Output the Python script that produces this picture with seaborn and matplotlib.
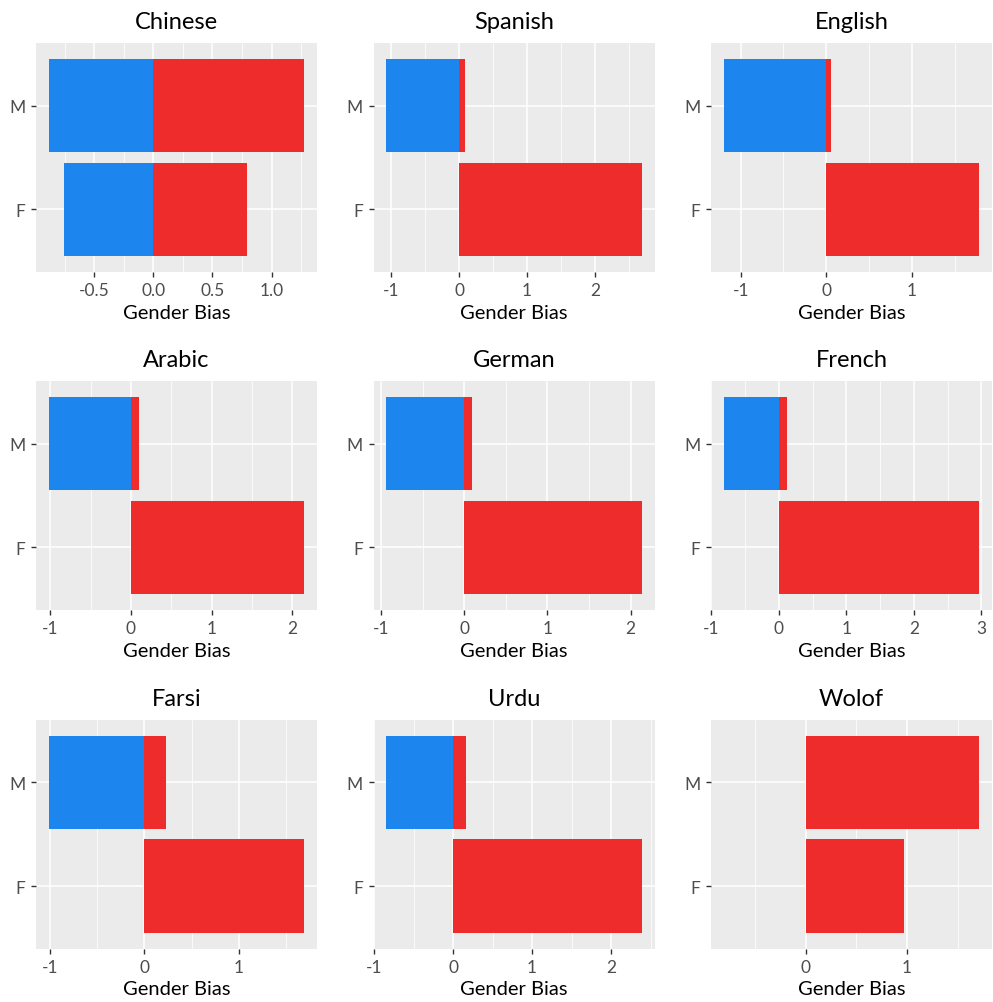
import numpy as np
import pandas as pd
import matplotlib
matplotlib.use("Agg")
import matplotlib.pyplot as plt
from matplotlib.ticker import MultipleLocator, FuncFormatter
import seaborn as sns

# Per-language gender bias, split into negative (blue) and positive (red) parts
languages = ["Chinese", "Spanish", "English", "Arabic", "German",
             "French", "Farsi", "Urdu", "Wolof"]
male_neg = [-0.885, -1.069, -1.197, -1.02, -0.939, -0.817, -1.01, -0.845, 0.0]
male_pos = [1.276, 0.083, 0.058, 0.095, 0.088, 0.113, 0.232, 0.164, 1.714]
female_neg = [-0.755, 0.0, 0.0, 0.0, 0.0, 0.0, 0.0, 0.0, 0.0]
female_pos = [0.792, 2.684, 1.787, 2.15, 2.134, 2.967, 1.69, 2.387, 0.974]
genders = ["M", "F"]
# extra lower bound kept in the Wolof scale
scale_floor = {"Wolof": -0.808}

rows = []
for i, lang in enumerate(languages):
    rows.append((lang, "M", "neg", male_neg[i]))
    rows.append((lang, "M", "pos", male_pos[i]))
    rows.append((lang, "F", "neg", female_neg[i]))
    rows.append((lang, "F", "pos", female_pos[i]))
df = pd.DataFrame(rows, columns=["language", "gender", "direction", "value"])

BLUE = "#1C86EE"
RED = "#EE2C2C"
BG = "#EBEBEB"

sns.set_theme(style="darkgrid")
plt.rcParams["font.family"] = ["Lato", "DejaVu Sans"]

W, H = 993, 1003
fig = plt.figure(figsize=(W / 100, H / 100), dpi=100)
fig.patch.set_facecolor("white")

col_left = [36, 373.5, 711]
row_top = [44.3, 382.3, 721]
pw, ph = 281, 228.5


def fmt_factory(step):
    def fmt(v, pos):
        if step < 1:
            s = f"{v:.1f}"
        else:
            s = f"{v:.0f}"
        if s.startswith("-") and float(s) == 0:
            s = s[1:]
        return s
    return fmt


for i, lang in enumerate(languages):
    r, c = divmod(i, 3)
    ax = fig.add_axes([col_left[c] / W, 1 - (row_top[r] + ph) / H, pw / W, ph / H])
    ax.set_facecolor(BG)
    sub = df[df["language"] == lang]
    sns.barplot(data=sub, x="value", y="gender", hue="direction",
                hue_order=["neg", "pos"], palette={"neg": BLUE, "pos": RED},
                order=genders, dodge=False, width=0.9, orient="h",
                errorbar=None, saturation=1, legend=False, linewidth=0, ax=ax)

    vals = list(sub["value"])
    lo = min(vals + [scale_floor.get(lang, 0.0)])
    hi = max(vals)
    span = hi - lo
    ax.set_xlim(lo - 0.05 * span, hi + 0.05 * span)
    ax.set_ylim(1.6, -0.6)

    step = 0.5 if lang == "Chinese" else 1.0
    ax.xaxis.set_major_locator(MultipleLocator(step))
    ax.xaxis.set_minor_locator(MultipleLocator(step / 2))
    ax.xaxis.set_major_formatter(FuncFormatter(fmt_factory(step)))

    ax.grid(False)
    ax.set_axisbelow(True)
    ax.grid(which="major", axis="both", color="white", linewidth=1.1)
    ax.grid(which="minor", axis="x", color="white", linewidth=0.55)
    for s in ax.spines.values():
        s.set_visible(False)

    ax.tick_params(axis="both", which="major", length=3.5, width=1.0,
                   color="#333333", labelcolor="#4D4D4D", labelsize=12.5,
                   pad=4, bottom=True, left=True)
    ax.tick_params(axis="x", which="minor", length=0)

    ax.set_title(lang, fontsize=17, color="black", pad=11)
    ax.set_xlabel("Gender Bias", fontsize=14.5, color="black", labelpad=4)
    ax.set_ylabel("")

fig.savefig("out.png", dpi=100, facecolor="white")
